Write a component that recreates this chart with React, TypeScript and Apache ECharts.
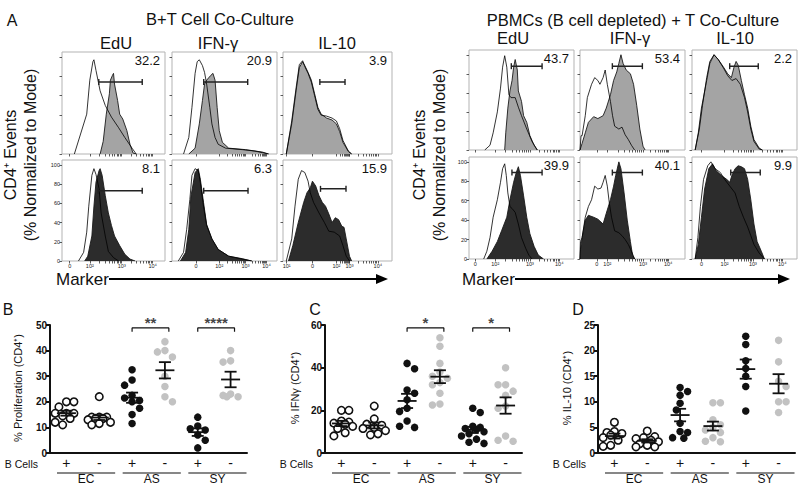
import React, { useEffect, useRef } from 'react';
import * as echarts from 'echarts';

// ---------------- Panel A: histogram curves (x: 0-100 panel scale, y: % of mode) ----------------
// B+T co-culture, top row
const bt1EduCtrl = [[12,0],[24,41],[27,76],[30,95],[31,97],[33,86],[37,65],[42,50],[48,38],[55,27],[61,17],[68,6],[72,0]];
const bt1EduStain = [[37,0],[40,13],[43,41],[46,62],[47,76],[49,81],[50,83],[51,72],[54,55],[56,41],[59,36],[63,24],[66,10],[69,1],[72,0]];
const bt1IfnCtrl = [[11,0],[16,17],[19,48],[22,83],[24,95],[26,97],[29,91],[31,84],[33,72],[36,48],[38,31],[41,17],[44,10],[51,6],[67,4.5],[79,3],[92,0]];
const bt1IfnStain = [[16,0],[22,6],[26,31],[29,55],[31,72],[33,76],[37,81],[39,83],[41,76],[43,48],[45,24],[48,12],[54,6],[70,4.5],[86,2],[92,0]];
const bt1Il10Ctrl = [[3,0],[8,34],[12,68],[15,92],[18,96],[20,90],[23,83],[26,74],[29,60],[32,46],[35,40],[40,39],[45,37],[49,34],[52,26],[55,14],[60,3],[63,0]];
const bt1Il10Stain = [[3,0],[8,31],[12,65],[15,89],[18,95],[20,91],[23,84],[26,76],[29,62],[32,48],[35,41],[40,37],[45,35],[49,31],[52,23],[55,12],[60,2.5],[63,0]];
// B+T co-culture, bottom row
const bt2EduCtrl = [[16,0],[21,9],[24,30],[26,57],[29,89],[31,96],[33,90],[36,75],[38,50],[42,26],[45,10],[50,3.5],[55,0]];
const bt2EduStain = [[22,0],[25,5],[29,26],[31,57],[33,82],[36,94],[37,96],[39,89],[42,68],[45,50],[48,37],[51,26],[56,16],[61,7],[66,2],[71,0]];
const bt2IfnCtrl = [[6,0],[11,9],[14,33],[17,64],[19,89],[22,96],[25,94],[27,82],[30,57],[33,37],[38,23],[44,12],[54,5],[67,2],[76,0]];
const bt2IfnStain = [[8,0],[13,9],[16,33],[18,67],[22,92],[25,96],[27,85],[30,61],[33,38],[38,23],[44,12],[54,5],[67,2.4],[76,0]];
const bt2Il10Ctrl = [[3,0],[8,23],[11,57],[14,85],[17,94],[20,92],[23,83],[25,71],[28,61],[33,50],[38,40],[42,31],[47,30],[52,26],[55,16],[58,5],[61,0]];
const bt2Il10Stain = [[5,0],[9,16],[14,40],[19,61],[22,71],[25,76],[27,83],[30,78],[33,68],[36,61],[39,57],[42,49],[45,40],[48,45],[51,43],[54,36],[56,35],[58,23],[61,5],[63,0]];
// PBMC (B depleted) + T co-culture, top row
const pb1EduCtrl = [[15,0],[20,5],[23,18],[27,40],[30,65],[32,87],[34,99],[36,87],[38,58],[40,55],[44,55],[47,45],[50,36],[55,22],[60,9],[65,0]];
const pb1EduStain = [[34,0],[35,18],[37,44],[39,62],[41,73],[42.5,87],[44,95],[46,84],[47,62],[50,51],[52,36],[55,29],[58,15],[62,5],[65,0]];
const pb1IfnCtrl = [[0,0],[1,15],[2,15],[5,36],[7,55],[11,69],[14,76],[17,73],[19,69],[22,76],[24,84],[26,69],[29,51],[31,36],[33,25],[37,22],[40,24],[43,16],[46,11],[49,5],[52,0]];
const pb1IfnStain = [[0,0],[2,7],[5,18],[8,29],[13,35],[17,33],[22,36],[25,44],[29,58],[32,73],[35,82],[37,91],[39,100],[41,91],[44,84],[48,80],[51,69],[54,47],[57,22],[60,4],[62,0]];
const pb1Il10Ctrl = [[3,0],[7,22],[10,47],[14,76],[17,93],[21,100],[25,95],[30,86],[34,78],[38,73],[42,75],[46,69],[50,55],[53,40],[56,22],[59,9],[64,1],[67,0]];
const pb1Il10Stain = [[3,0],[6,18],[9,44],[14,73],[17,91],[21,100],[25,95],[30,87],[34,80],[37.5,76],[40,87],[42,93],[44,89],[47,73],[50,58],[53,44],[56,25],[59,11],[64,2],[67,0]];
// PBMC (B depleted) + T co-culture, bottom row
const pb2EduCtrl = [[14,0],[17,8],[20,22],[23,43],[27,61],[30,79],[32,93],[34,98],[35.5,86],[37,68],[39,54],[41,52],[44,48],[47,36],[50,22],[54,11],[57,4],[60,0]];
const pb2EduStain = [[17,0],[22,8],[27,18],[31,29],[36,43],[39,61],[42.5,79],[45,89],[47,95],[49,86],[52,65],[55,43],[58,26],[62,13],[66,4],[71,0]];
const pb2IfnCtrl = [[0,0],[0.5,18],[2,22],[5,43],[8,54],[11,61],[14,75],[17,72],[20,73],[22,79],[24,86],[26,75],[28,57],[30,43],[33,29],[37,27],[40,24],[43,20],[46,15],[49,8],[52,0]];
const pb2IfnStain = [[0,0],[0.5,10],[2,22],[5,40],[8,45],[13,43],[17,41],[22,36],[25,47],[29,61],[32,75],[34,86],[37,100],[39,93],[42,68],[45,40],[48,18],[50,4],[52,0]];
const pb2Il10Ctrl = [[3,0],[5.6,22],[8,54],[11,82],[15,96],[18,100],[22,93],[27,89],[31,82],[36,75],[41,68],[45,54],[49,43],[53,33],[56,24],[59,15],[64,6],[69,0]];
const pb2Il10Stain = [[3,0],[6,15],[9,43],[12,72],[16,93],[19.5,98],[23,91],[28,86],[33,82],[36,79],[38,86],[41,93],[44,96],[47,95],[50,93],[53,82],[56,61],[59,36],[62,18],[66,8],[69,0]];

// gates [start, end, level] and gated percentages
const gates = [
  [35.7, 77.9, 74], [30.2, 72.1, 74], [33.8, 56.9, 74],
  [35.1, 77.9, 73], [30.2, 72.4, 73], [34.4, 57.8, 75],
  [40.3, 69.6, 88], [30.8, 59.4, 88], [35.9, 63.1, 88],
  [40.9, 69.6, 89], [30.8, 59.4, 89], [36.9, 65.0, 89],
];
const pctLabels = ['32.2', '20.9', '3.9', '8.1', '6.3', '15.9', '43.7', '53.4', '2.2', '39.9', '40.1', '9.9'];

// x tick labels (position on panel scale, label)
const xTicksBtEdu = [[7.5, '0'], [27, '10²'], [58, '10³'], [88, '10⁴']];
const xTicksBtIfn = [[23, '0'], [45, '10²'], [70, '10³'], [90, '10⁴']];
const xTicksBtIl10 = [[3.4, '10¹'], [27, '0'], [49, '10²'], [61, '10³'], [87, '10⁴']];
const xTicksPbEdu = [[6, '0'], [25, '10²'], [58, '10³'], [86, '10⁴']];
const xTicksPbIfn = [[16, '0'], [26, '10²'], [60, '10³'], [84, '10⁴']];
const xTicksPbIl10 = [[9, '0'], [31, '10²'], [58, '10³'], [86, '10⁴']];
const yTicksHist = [0, 20, 40, 60, 80, 100];

const markerNames = ['EdU', 'IFN-γ', 'IL-10'];

// ---------------- Panels B, C, D: dot plots ----------------
const groupNames = ['EC', 'AS', 'SY'];
const bCellLabels = ['+', '-', '+', '-', '+', '-'];

const bEcPos = [20, 20, 18, 15.5, 15.5, 15.5, 14.5, 13.5, 12, 11];
const bEcNeg = [22, 14, 14, 14, 13.5, 13.5, 13, 12, 11.5, 11];
const bAsPos = [32.5, 28.5, 26.5, 22.5, 21.5, 20.5, 20, 17.5, 15, 11.5];
const bAsNeg = [43.5, 40, 39.5, 37.5, 30, 26, 22, 20];
const bSyPos = [14, 10.5, 9.5, 9, 7, 5, 2];
const bSyNeg = [40, 36, 35.5, 23, 22.5, 22, 22];

const cEcPos = [20, 20, 15, 14.5, 14, 13.5, 12.5, 11.5, 9.5, 8];
const cEcNeg = [22, 16, 13.5, 13, 12, 11.5, 10.5, 9, 8.5];
const cAsPos = [42, 39.5, 29.5, 28, 25, 21, 19.5, 15, 12.5, 12];
const cAsNeg = [54, 50, 42, 38, 36, 35, 33, 32, 28, 23, 22.5];
const cSyPos = [21, 19, 12.5, 12, 11.5, 11, 10, 9, 8, 6.5, 5, 4.5];
const cSyNeg = [40, 32, 32, 29, 27, 22, 21, 8, 6, 5.5];

const dEcPos = [6, 4.2, 4, 3.8, 3.5, 3, 2.5, 1.5, 1.3];
const dEcNeg = [4.3, 3.2, 3, 2.8, 2.5, 2.2, 1.8, 1.5, 1.2, 1.2];
const dAsPos = [12.8, 12, 11.3, 9.7, 8.4, 5.8, 4.2, 4, 3, 2.9];
const dAsNeg = [9.8, 9.8, 6.5, 5.5, 5, 4.5, 4, 3, 2.3, 2.2];
const dSyPos = [22.8, 21.2, 18, 16.5, 15, 13, 8.2];
const dSyNeg = [22, 17.8, 14, 13, 10, 10, 7.9];

const sigB = [{ a: 3, b: 4, text: '**' }, { a: 5, b: 6, text: '****' }];
const sigC = [{ a: 3, b: 4, text: '*' }, { a: 5, b: 6, text: '*' }];
const sigD: { a: number; b: number; text: string }[] = [];

const FONT = '"Liberation Sans", Arial, Helvetica, sans-serif';

function T(x: number, y: number, text: string, size: number, align = 'center', rot = 0, weight = 'normal'): any {
  return {
    type: 'text', x, y, rotation: rot, silent: true,
    style: { text, fontSize: size, fontFamily: FONT, fontWeight: weight, fill: '#111', align, verticalAlign: 'middle' },
  };
}

function mean(v: number[]) { return v.reduce((s, x) => s + x, 0) / v.length; }
function sem(v: number[]) {
  const m = mean(v);
  const sd = Math.sqrt(v.reduce((s, x) => s + (x - m) * (x - m), 0) / (v.length - 1));
  return sd / Math.sqrt(v.length);
}

// beeswarm placement, capped width (returns x offsets in axis units)
function swarm(vals: number[], pxPerY: number, pxPerX: number, d: number, maxOff: number): number[] {
  const idx = vals.map((_, i) => i).sort((a, b) => vals[b] - vals[a]);
  const placed: { x: number; y: number }[] = [];
  const out = new Array(vals.length).fill(0);
  const step = d * 0.5;
  idx.forEach((i, n) => {
    const y = vals[i] * pxPerY;
    const sgn = n % 2 ? 1 : -1;
    let best = 0, bestDist = -1, found = false;
    for (let k = 0; k < 40; k++) {
      const off = k === 0 ? 0 : (k % 2 ? sgn : -sgn) * Math.ceil(k / 2) * step;
      if (Math.abs(off) > maxOff) break;
      const minD = placed.length ? Math.min(...placed.map(p => Math.hypot(p.x - off, p.y - y))) : Infinity;
      if (minD >= d) { best = off; found = true; break; }
      if (minD > bestDist) { bestDist = minD; best = off; }
    }
    placed.push({ x: best, y });
    out[i] = best / pxPerX;
    void found;
  });
  return out;
}

function tickPositions(ticks: any[]): number[] {
  const out: number[] = ticks.map(t => t[0]);
  for (let i = 0; i < ticks.length - 1; i++) {
    const [a, la] = ticks[i];
    const [b, lb] = ticks[i + 1];
    if (la.startsWith('10') && lb.startsWith('10') && la !== '10¹') {
      for (let k = 2; k <= 9; k++) out.push(a + (b - a) * Math.log10(k));
    }
  }
  return out;
}

function buildOption() {
  const grids: any[] = [];
  const xAxes: any[] = [];
  const yAxes: any[] = [];
  const series: any[] = [];
  const gfx: any[] = [];

  // ---------- Panel A ----------
  const leftCols = [{ x: 62, w: 103 }, { x: 172, w: 105 }, { x: 283, w: 109 }];
  const rightCols = [{ x: 469, w: 105 }, { x: 580, w: 105 }, { x: 692, w: 105 }];
  const leftRows = [{ y: 52, h: 102 }, { y: 160, h: 101 }];
  const rightRows = [{ y: 50, h: 100 }, { y: 157, h: 102 }];

  const curves = [
    [[bt1EduStain, bt1EduCtrl], [bt1IfnStain, bt1IfnCtrl], [bt1Il10Stain, bt1Il10Ctrl]],
    [[bt2EduStain, bt2EduCtrl], [bt2IfnStain, bt2IfnCtrl], [bt2Il10Stain, bt2Il10Ctrl]],
    [[pb1EduStain, pb1EduCtrl], [pb1IfnStain, pb1IfnCtrl], [pb1Il10Stain, pb1Il10Ctrl]],
    [[pb2EduStain, pb2EduCtrl], [pb2IfnStain, pb2IfnCtrl], [pb2Il10Stain, pb2Il10Ctrl]],
  ];
  const tickSets = [[xTicksBtEdu, xTicksBtIfn, xTicksBtIl10], [xTicksPbEdu, xTicksPbIfn, xTicksPbIl10]];

  let gi = 0;
  for (let grp = 0; grp < 2; grp++) {
    const cols = grp === 0 ? leftCols : rightCols;
    const rows = grp === 0 ? leftRows : rightRows;
    for (let r = 0; r < 2; r++) {
      for (let c = 0; c < 3; c++) {
        const k = grp * 6 + r * 3 + c;
        const col = cols[c], row = rows[r];
        const [stain, ctrl] = curves[grp * 2 + r][c];
        const ticks = tickSets[grp][c];
        const g = gates[k];
        const dark = r === 1;
        grids.push({ left: col.x, top: row.y, width: col.w, height: row.h, show: true, borderColor: '#b3b3b3', borderWidth: 1, backgroundColor: '#fff' });
        xAxes.push({
          gridIndex: gi, type: 'value', min: 0, max: 100,
          axisLine: { show: false }, splitLine: { show: false },
          axisTick: { show: true, customValues: tickPositions(ticks), length: 2.5, lineStyle: { color: '#333', width: 0.8 } },
          axisLabel: {
            show: r === 1, customValues: ticks.map(t => t[0]), fontSize: 5.5, margin: 2, color: '#222', fontFamily: FONT,
            formatter: (v: number) => { const f = ticks.find(t => Math.abs(t[0] - v) < 0.01); return f ? f[1] : ''; },
          },
        });
        yAxes.push({
          gridIndex: gi, type: 'value', min: 0, max: 105,
          axisLine: { show: false }, splitLine: { show: false },
          axisTick: { show: true, customValues: yTicksHist, length: 2.5, lineStyle: { color: '#333', width: 0.8 } },
          axisLabel: { show: r === 1 && c === 0, customValues: yTicksHist, fontSize: 5.5, margin: 2, color: '#222', fontFamily: FONT },
        });
        series.push({
          type: 'line', xAxisIndex: gi, yAxisIndex: gi, data: stain, symbol: 'none', silent: true, z: 2,
          lineStyle: { color: '#1a1a1a', width: 0.9 },
          areaStyle: { color: dark ? '#2c2c2c' : '#a4a4a4', opacity: 1 },
        });
        series.push({
          type: 'line', xAxisIndex: gi, yAxisIndex: gi, data: ctrl, symbol: 'none', silent: true, z: 3,
          lineStyle: { color: '#000', width: 0.8 },
        });
        series.push({
          type: 'line', xAxisIndex: gi, yAxisIndex: gi, data: [[g[0], g[2]], [g[1], g[2]]], silent: true, z: 4,
          symbol: 'rect', symbolSize: [1.4, 6], showSymbol: true, itemStyle: { color: '#222' },
          lineStyle: { color: '#222', width: 1.5 },
        });
        gfx.push(T(col.x + col.w - 5, row.y + 8, pctLabels[k], 13, 'right'));
        gi++;
      }
    }
  }

  // titles for panel A
  gfx.push(T(12, 20, 'A', 16));
  gfx.push(T(220, 19, 'B+T Cell Co-Culture', 16.5));
  gfx.push(T(633, 20, 'PBMCs (B cell depleted) + T Co-Culture', 16.5));
  [116, 218, 337].forEach((x, i) => gfx.push(T(x, 43, markerNames[i], 16.5)));
  [513, 630, 735].forEach((x, i) => gfx.push(T(x, 38, markerNames[i], 16.5)));
  gfx.push(T(10, 155, 'CD4⁺ Events', 16, 'center', Math.PI / 2));
  gfx.push(T(30, 155, '(% Normalized to Mode)', 16, 'center', Math.PI / 2));
  gfx.push(T(419, 155, 'CD4⁺ Events', 16, 'center', Math.PI / 2));
  gfx.push(T(439, 155, '(% Normalized to Mode)', 16, 'center', Math.PI / 2));
  // Marker arrows
  [[56, 109, 388], [462, 515, 790]].forEach(([tx, x1, x2]) => {
    gfx.push(T(tx, 279, 'Marker', 17, 'left'));
    gfx.push({ type: 'line', silent: true, shape: { x1, y1: 279, x2: x2 - 8, y2: 279 }, style: { stroke: '#000', lineWidth: 2 } });
    gfx.push({ type: 'polygon', silent: true, shape: { points: [[x2 - 12, 274], [x2, 279], [x2 - 12, 284]] }, style: { fill: '#000' } });
  });

  // ---------- Panels B, C, D ----------
  const dotPanels = [
    { letter: 'B', left: 50, max: 50, interval: 10, groups: [bEcPos, bEcNeg, bAsPos, bAsNeg, bSyPos, bSyNeg], sig: sigB, title: '% Proliferation (CD4⁺)', titleX: 18, letterX: 8 },
    { letter: 'C', left: 325, max: 60, interval: 20, groups: [cEcPos, cEcNeg, cAsPos, cAsNeg, cSyPos, cSyNeg], sig: sigC, title: '% IFNγ (CD4⁺)', titleX: 295, letterX: 315 },
    { letter: 'D', left: 598, max: 25, interval: 5, groups: [dEcPos, dEcNeg, dAsPos, dAsNeg, dSyPos, dSyNeg], sig: sigD, title: '% IL-10 (CD4⁺)', titleX: 567, letterX: 578 },
  ];
  const top = 325, height = 128, width = 197;
  const band = width / 6;
  dotPanels.forEach(p => {
    grids.push({ left: p.left, top, width, height });
    xAxes.push({
      gridIndex: gi, type: 'value', min: 0.5, max: 6.5,
      axisLine: { show: true, lineStyle: { color: '#111', width: 2 } }, splitLine: { show: false },
      axisTick: { show: false },
      axisLabel: {
        customValues: [1, 2, 3, 4, 5, 6], fontSize: 14, margin: 3, color: '#111', fontFamily: FONT,
        formatter: (v: number) => bCellLabels[Math.round(v) - 1] || '',
      },
    });
    yAxes.push({
      gridIndex: gi, type: 'value', min: 0, max: p.max, interval: p.interval,
      axisLine: { show: true, lineStyle: { color: '#111', width: 2 } }, splitLine: { show: false },
      axisTick: { show: true, length: 4, lineStyle: { color: '#111', width: 2 } },
      axisLabel: { fontSize: 10, fontWeight: 'bold', margin: 3, color: '#111', fontFamily: FONT },
    });
    const pxPerY = height / p.max;
    p.groups.forEach((vals, i) => {
      const offs = swarm(vals, pxPerY, band, 7.5, 11.5);
      const open = i < 2;
      const gray = i === 3 || i === 5;
      series.push({
        type: 'scatter', xAxisIndex: gi, yAxisIndex: gi, silent: true, z: 3,
        data: vals.map((v, j) => [i + 1 + offs[j], v]),
        symbol: 'circle', symbolSize: 7.5,
        itemStyle: open ? { color: '#fff', borderColor: '#111', borderWidth: 1.6, opacity: 1 } : { color: gray ? '#c2c2c2' : '#111', opacity: 1 },
      });
    });
    series.push({
      type: 'custom', xAxisIndex: gi, yAxisIndex: gi, silent: true, z: 5,
      data: p.groups.map((vals, i) => [i + 1, mean(vals), sem(vals)]),
      renderItem: (params: any, api: any) => {
        const x = api.value(0), m = api.value(1), s = api.value(2);
        const c = api.coord([x, m]);
        const t = api.coord([x, m + s]);
        const b = api.coord([x, m - s]);
        const st = { stroke: '#111', lineWidth: 1.8 };
        return {
          type: 'group', children: [
            { type: 'line', shape: { x1: c[0] - 9.5, y1: c[1], x2: c[0] + 9.5, y2: c[1] }, style: st },
            { type: 'line', shape: { x1: c[0], y1: t[1], x2: c[0], y2: b[1] }, style: st },
            { type: 'line', shape: { x1: c[0] - 6, y1: t[1], x2: c[0] + 6, y2: t[1] }, style: st },
            { type: 'line', shape: { x1: c[0] - 6, y1: b[1], x2: c[0] + 6, y2: b[1] }, style: st },
          ],
        };
      },
    });
    p.sig.forEach(s => {
      const yTop = p.max * 0.977, yLow = p.max * 0.947;
      series.push({
        type: 'line', xAxisIndex: gi, yAxisIndex: gi, silent: true, z: 4, symbol: 'none',
        data: [[s.a, yLow], [s.a, yTop], [s.b + 0.12, yTop], [s.b + 0.12, yLow]],
        lineStyle: { color: '#111', width: 1.2 },
      });
      series.push({
        type: 'scatter', xAxisIndex: gi, yAxisIndex: gi, silent: true, z: 4, symbolSize: 0,
        data: [[(s.a + s.b + 0.12) / 2, yTop]],
        label: { show: true, position: 'top', distance: -2, formatter: s.text, fontSize: 15, fontWeight: 'bold', color: '#111', fontFamily: FONT },
      });
    });
    // texts
    gfx.push(T(p.letterX, 309, p.letter, 16));
    gfx.push(T(p.titleX, 388, p.title, 11, 'center', Math.PI / 2));
    gfx.push(T(p.left - 12, 464, 'B Cells', 10.5, 'right'));
    groupNames.forEach((gname, j) => {
      const x1 = p.left + j * 2 * band + 7;
      const x2 = p.left + (j + 1) * 2 * band - 0.5;
      gfx.push({ type: 'line', silent: true, shape: { x1, y1: 473, x2, y2: 473 }, style: { stroke: '#111', lineWidth: 1.2 } });
      gfx.push(T((x1 + x2) / 2, 478.5, gname, 12));
    });
    gi++;
  });

  return {
    animation: false,
    backgroundColor: '#fff',
    textStyle: { fontFamily: FONT },
    grid: grids,
    xAxis: xAxes,
    yAxis: yAxes,
    series,
    graphic: { elements: gfx },
  };
}

export default function App() {
  const ref = useRef<HTMLDivElement>(null);
  useEffect(() => {
    if (!ref.current) return;
    const chart = echarts.init(ref.current, null, { renderer: 'svg' });
    chart.setOption(buildOption() as any);
    return () => chart.dispose();
  }, []);
  return <div ref={ref} style={{ position: 'absolute', left: 0, top: 0, width: 800, height: 485, background: '#fff' }} />;
}
